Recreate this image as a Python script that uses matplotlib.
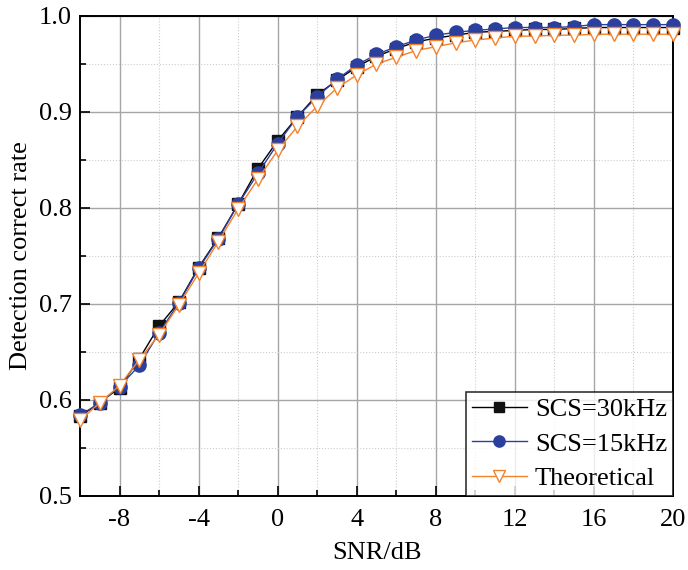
import numpy as np
import matplotlib
matplotlib.use("Agg")
import matplotlib.pyplot as plt
from matplotlib.ticker import MultipleLocator, FormatStrFormatter

plt.rcParams['font.family'] = ['Liberation Serif', 'DejaVu Serif']
plt.rcParams['mathtext.fontset'] = 'stix'
plt.rcParams['axes.unicode_minus'] = False

snr = list(range(-10, 21))
scs30 = [0.583, 0.597, 0.613, 0.643, 0.677, 0.702, 0.738, 0.769, 0.804, 0.841, 0.870,
         0.895, 0.918, 0.933, 0.947, 0.958, 0.966, 0.973, 0.977, 0.980, 0.983,
         0.984, 0.985, 0.986, 0.986, 0.987, 0.988, 0.988, 0.988, 0.988, 0.988]
scs15 = [0.584, 0.597, 0.614, 0.636, 0.670, 0.701, 0.737, 0.768, 0.804, 0.836, 0.867,
         0.895, 0.916, 0.934, 0.949, 0.960, 0.968, 0.975, 0.980, 0.983, 0.985,
         0.9865, 0.988, 0.988, 0.988, 0.989, 0.991, 0.991, 0.991, 0.991, 0.991]
theo = [0.579, 0.597, 0.615, 0.642, 0.668, 0.699, 0.732, 0.765, 0.799, 0.830, 0.860,
        0.885, 0.906, 0.925, 0.9385, 0.950, 0.957, 0.964, 0.968, 0.972, 0.975,
        0.977, 0.979, 0.979, 0.980, 0.980, 0.981, 0.981, 0.981, 0.981, 0.981]

fig = plt.figure(figsize=(6.88, 5.70), dpi=100)
ax = fig.add_axes([80/688, 74/570, 593/688, 480/570])

ax.plot(snr, scs30, color='black', lw=1.0, marker='s', ms=8, mfc='#111111', mec='#111111',
        label='SCS=30kHz', zorder=3, clip_on=False)
ax.plot(snr, scs15, color='#2b3f9e', lw=1.0, marker='o', ms=9.5, mfc='#2b3f9e', mec='#2b3f9e',
        label='SCS=15kHz', zorder=4, clip_on=False)
ax.plot(snr, theo, color='#f5822a', lw=1.0, marker='v', ms=10, mfc='white', mec='#f5822a',
        mew=1.0, label='Theoretical', zorder=5, clip_on=False)

ax.set_xlim(-10, 20)
ax.set_ylim(0.5, 1.0)
ax.xaxis.set_minor_locator(MultipleLocator(2))
ax.set_xticks(np.arange(-8, 21, 4))
ax.yaxis.set_major_locator(MultipleLocator(0.1))
ax.yaxis.set_minor_locator(MultipleLocator(0.05))
ax.yaxis.set_major_formatter(FormatStrFormatter('%.1f'))

ax.grid(which='major', color='#a6a6a6', lw=1.0, ls='-')
ax.grid(which='minor', color='#cccccc', lw=0.8, ls=':')
ax.set_axisbelow(True)

ax.tick_params(which='both', direction='in', labelsize=19, top=False, right=False, width=1.2)
ax.tick_params(which='major', length=7)
ax.tick_params(which='minor', length=4)
ax.tick_params(axis='x', pad=9)
ax.tick_params(axis='y', pad=6)
for s in ax.spines.values():
    s.set_linewidth(1.4)
    s.set_color('black')

ax.set_xlabel('SNR/dB', fontsize=19, labelpad=8)
ax.set_ylabel('Detection correct rate', fontsize=19, labelpad=5)

leg = ax.legend(loc='lower right', fontsize=19, frameon=True, fancybox=False,
                edgecolor='black', borderaxespad=0, handlelength=2.1,
                handletextpad=0.3, borderpad=0.22, labelspacing=0.42, markerscale=0.85)
leg.get_frame().set_linewidth(1.2)
leg.set_zorder(10)

fig.savefig('out.png', dpi=100)
